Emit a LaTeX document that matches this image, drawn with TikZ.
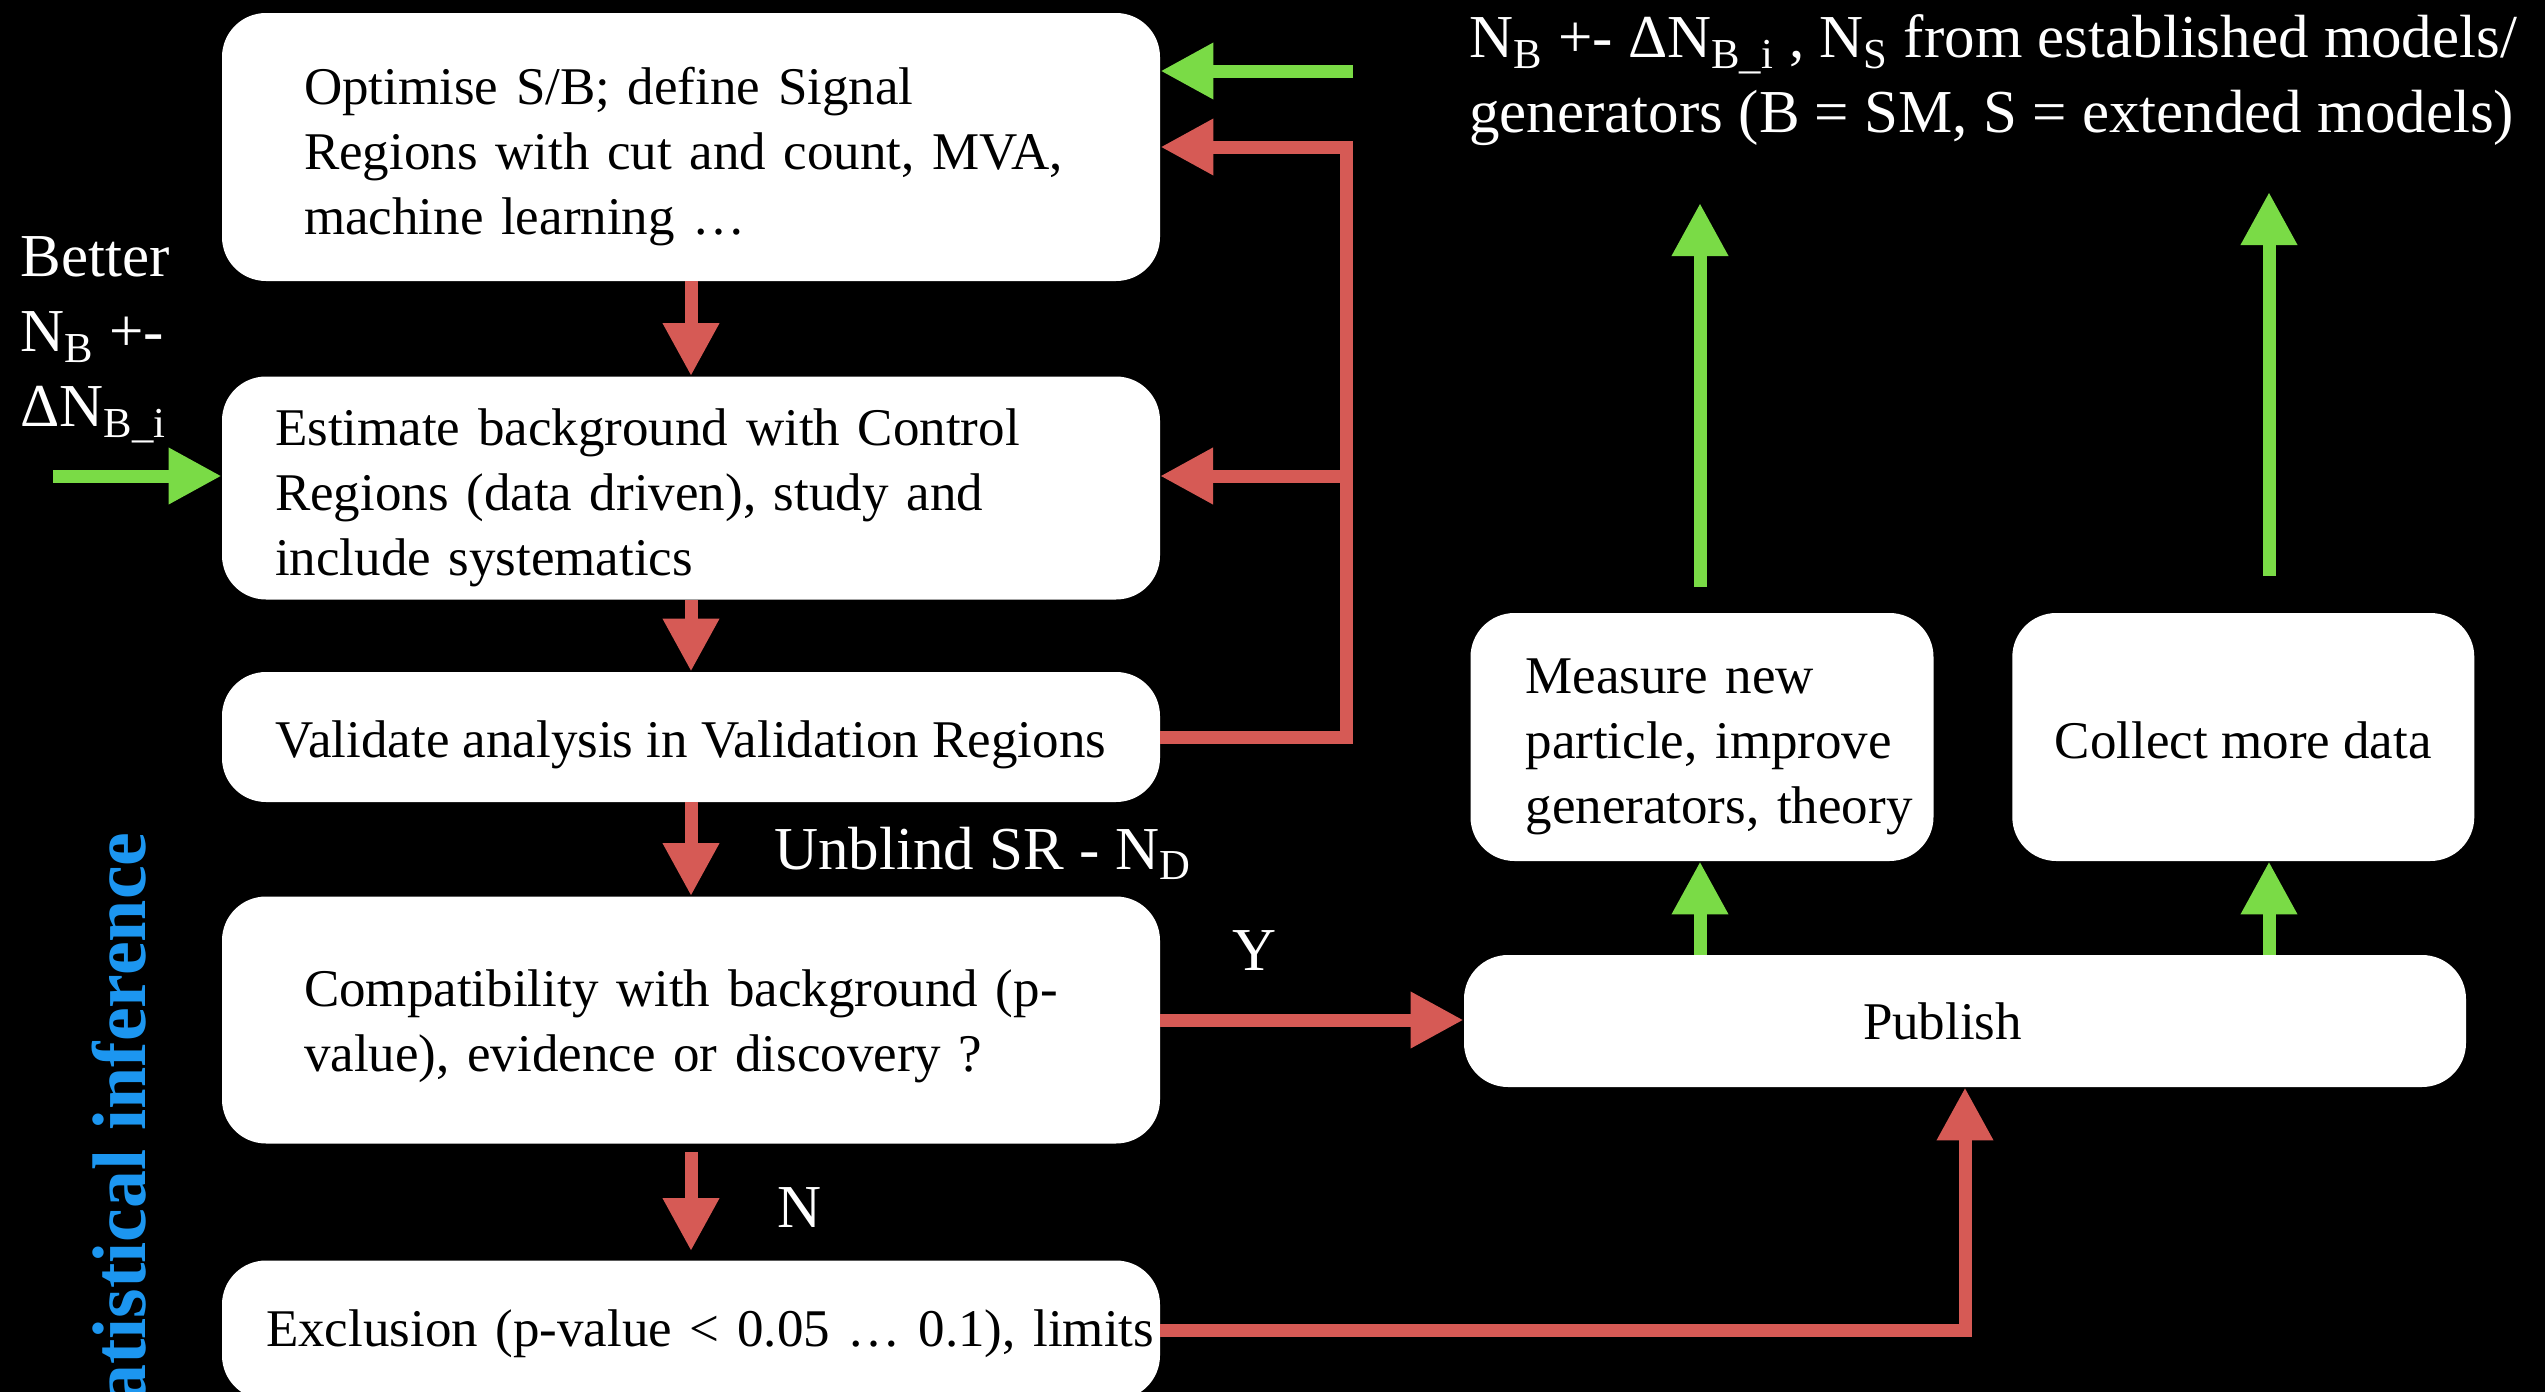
\documentclass[tikz,border=0pt]{standalone}
\usepackage{fontspec}
\setmainfont{Liberation Serif}
\usetikzlibrary{arrows.meta,positioning}

\definecolor{flowred}{RGB}{214,90,85}
\definecolor{flowgreen}{RGB}{122,219,70}
\definecolor{statblue}{RGB}{28,150,240}

\begin{document}
\begin{tikzpicture}[x=0.5pt,y=-0.5pt,
  stage/.style={fill=white,rounded corners=22pt,inner ysep=0pt,align=left,
    minimum width=469pt,font=\fontsize{26.5}{32.5}\selectfont},
  drop/.style={execute at begin node={\rule{0pt}{#1}}},
  note/.style={text=white,inner sep=0pt,align=left,font=\fontsize{30.5}{37.5}\selectfont},
  red flow/.style={draw=flowred,line width=6.5pt,-{Triangle[length=26.5pt,width=26.5pt]}},
  green flow/.style={draw=flowgreen,line width=6.5pt,-{Triangle[length=26.5pt,width=26.5pt]}}]

  \useasboundingbox (0,0) rectangle (2545,1392);
  \fill[black] (0,0) rectangle (2545,1392);

  \node[stage,drop=28pt,minimum height=134pt,text width=387pt,inner xsep=41pt] (opt) at (691,147)
    {Optimise S/B; define Signal\\Regions with cut and count, MVA,\\machine learning …};
  \node[stage,drop=28pt,minimum height=111.5pt,text width=416pt,inner xsep=26.5pt] (est) at (691,488)
    {Estimate background with Control\\Regions (data driven), study and\\include systematics};
  \node[stage,drop=26pt,minimum height=65pt] (val) at (691,737) {Validate analysis in Validation Regions};
  \node[stage,drop=25pt,minimum height=123.5pt,text width=387pt,inner xsep=41pt] (comp) at (691,1020)
    {Compatibility with background (p-\\value), evidence or discovery ?};
  \node[stage,drop=22pt,minimum height=69.5pt,text width=425pt,inner xsep=22pt] (excl) at (691,1330)
    {\mbox{Exclusion (p-value < 0.05 … 0.1), limits}};

  \node[stage,drop=27pt,minimum width=231.5pt,minimum height=124pt,text width=176.5pt,inner xsep=27.5pt] (meas) at (1702,737)
    {Measure new\\\mbox{particle, improve}\\\mbox{generators, theory}};
  \node[stage,drop=22pt,minimum width=231pt,minimum height=124pt,right=39pt of meas] (coll) {Collect more data};
  \node[stage,minimum width=501pt,minimum height=66pt,text width=102pt,inner xsep=199.5pt] (pub) at (1965,1021) {Publish};

  \node[note,anchor=west] (better) at (20,340) {Better\\N\textsubscript{B} +-\\ΔN\textsubscript{B\_i}};
  \node[note,anchor=west] (models) at (1469,80)
    {N\textsubscript{B} +- ΔN\textsubscript{B\_i} , N\textsubscript{S} from established models/\\generators (B = SM, S = extended models)};
  \node[note,anchor=base west] (unblind) at (774,869) {Unblind SR - N\textsubscript{D}};
  \node[note,anchor=base] (yes) at (1255,970) {Y};
  \node[note,anchor=base west] (no) at (777,1227) {N};
  \node[rotate=90,anchor=base east,inner sep=0pt,text=statblue,
    font=\fontsize{38}{46}\selectfont\bfseries] (stat) at (145,832) {Statistical inference};

  \coordinate (modin) at (1353,71);
  \coordinate (fbk) at (1346,737);
  \coordinate (estin) at (1160,476);
  \coordinate (betterin) at (53,476);
  \coordinate (measout) at (1700,587);
  \coordinate (upmeas) at (1700,203);
  \coordinate (collout) at (2269,576);
  \coordinate (upcoll) at (2269,192);

  \draw[green flow] (modin) -- (modin -| opt.east);
  \draw[red flow] (val.east) -- (fbk) |- (opt.east);
  \draw[red flow] (fbk |- estin) -- (estin);
  \draw[green flow] (betterin) -- (betterin -| est.west);

  \draw[red flow] (opt) -- (est);
  \draw[red flow] (est) -- (val);
  \draw[red flow] (val) -- (comp);
  \draw[red flow] ([yshift=-4pt]comp.south) -- ([yshift=4.5pt]excl.north);
  \draw[red flow] (comp.east) -- (comp.east -| pub.west);
  \draw[red flow] (excl.east) -| (pub.south);

  \draw[green flow] (pub.north -| upmeas) -- (meas.south -| upmeas);
  \draw[green flow] (pub.north -| upcoll) -- (coll.south -| upcoll);
  \draw[green flow] (measout) -- (upmeas);
  \draw[green flow] (collout) -- (upcoll);
\end{tikzpicture}
\end{document}
